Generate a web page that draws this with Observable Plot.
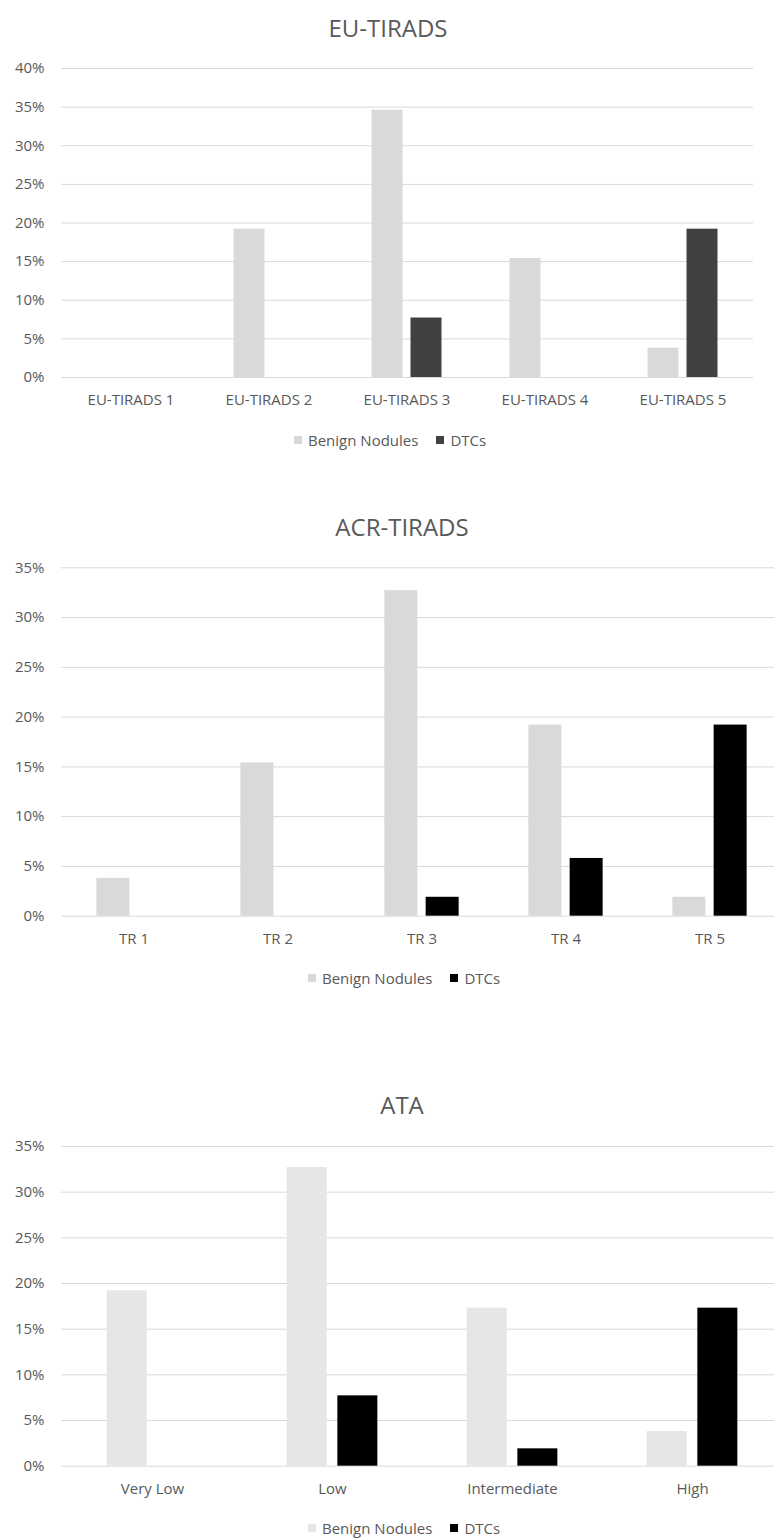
<!DOCTYPE html>
<html>
<head>
<meta charset="utf-8">
<script src="https://cdn.jsdelivr.net/npm/d3@7"></script>
<script src="https://cdn.jsdelivr.net/npm/@observablehq/plot@0.6"></script>
<style>
  body { margin: 0; background: #fff; width: 774px; height: 1538px; overflow: hidden; position: relative;
         font-family: "Open Sans", sans-serif; color: #595959; }
  .title { position: absolute; transform: translateX(-50%); font-size: 24px; line-height: 30px; white-space: nowrap; }
  .chart { position: absolute; left: 0; }
  .legend { position: absolute; font-size: 15px; line-height: 20px; white-space: nowrap; display: flex; align-items: center; }
  .legend .sw { display: inline-block; width: 8px; height: 8px; margin-right: 6px; }
  .legend .item { display: flex; align-items: center; margin-right: 18px; }
</style>
</head>
<body>
<script>
// Share of all 52 nodules per risk category, split by final diagnosis
const seriesNames = ["Benign Nodules", "DTCs"];

const euCategories = ["EU-TIRADS 1", "EU-TIRADS 2", "EU-TIRADS 3", "EU-TIRADS 4", "EU-TIRADS 5"];
const euBenign = [0, 0.192, 0.346, 0.154, 0.038];
const euDTC = [0, 0, 0.077, 0, 0.192];

const acrCategories = ["TR 1", "TR 2", "TR 3", "TR 4", "TR 5"];
const acrBenign = [0.038, 0.154, 0.327, 0.192, 0.019];
const acrDTC = [0, 0, 0.019, 0.058, 0.192];

const ataCategories = ["Very Low", "Low", "Intermediate", "High"];
const ataBenign = [0.192, 0.327, 0.173, 0.038];
const ataDTC = [0, 0.077, 0.019, 0.173];

const yTicks40 = [0, 0.05, 0.10, 0.15, 0.20, 0.25, 0.30, 0.35, 0.40];
const yTicks35 = [0, 0.05, 0.10, 0.15, 0.20, 0.25, 0.30, 0.35];

function panel(cfg) {
  const rows = (vals) => cfg.categories.map((c, i) => ({category: c, value: vals[i]}));
  const step = cfg.step, barW = cfg.barWidth, gap = cfg.gap;
  const pad = 1 - barW / step;
  const off = (barW + gap) / 2;

  const title = document.createElement("div");
  title.className = "title";
  title.textContent = cfg.title;
  title.style.left = cfg.titleX + "px";
  title.style.top = cfg.titleTop + "px";
  document.body.appendChild(title);

  const svg = Plot.plot({
    width: 774,
    height: cfg.height,
    marginLeft: 61,
    marginRight: cfg.marginRight,
    marginTop: cfg.marginTop,
    marginBottom: cfg.marginBottom,
    style: {fontFamily: "Open Sans, sans-serif", fontSize: "15px", color: "#595959", background: "transparent", overflow: "hidden"},
    x: {domain: cfg.categories, paddingInner: pad, paddingOuter: pad / 2, label: null, tickSize: 0, tickPadding: 17},
    y: {domain: [0, cfg.yMax], ticks: cfg.yTicks, tickFormat: d3.format(".0%"), label: null, tickSize: 0, tickPadding: 17},
    marks: [
      Plot.ruleY(cfg.yTicks, {stroke: "#d9d9d9", strokeWidth: 1}),
      Plot.barY(rows(cfg.benign), {x: "category", y: "value", fill: cfg.colors[0], dx: -off}),
      Plot.barY(rows(cfg.dtc), {x: "category", y: "value", fill: cfg.colors[1], dx: off})
    ]
  });
  svg.classList.add("chart");
  svg.style.top = cfg.svgTop + "px";
  document.body.appendChild(svg);

  const legend = document.createElement("div");
  legend.className = "legend";
  legend.style.left = cfg.legendLeft + "px";
  legend.style.top = cfg.legendTop + "px";
  seriesNames.forEach((name, i) => {
    const item = document.createElement("span");
    item.className = "item";
    const sw = document.createElement("span");
    sw.className = "sw";
    sw.style.background = cfg.colors[i];
    item.appendChild(sw);
    item.appendChild(document.createTextNode(name));
    legend.appendChild(item);
  });
  document.body.appendChild(legend);
}

panel({
  title: "EU-TIRADS", titleX: 388, titleTop: 13,
  categories: euCategories, benign: euBenign, dtc: euDTC,
  colors: ["#d9d9d9", "#404040"],
  yMax: 0.40, yTicks: yTicks40,
  svgTop: 50, height: 367, marginTop: 18, marginBottom: 40, marginRight: 21,
  step: 138.2, barWidth: 31.3, gap: 7.7,
  legendLeft: 294, legendTop: 430
});

panel({
  title: "ACR-TIRADS", titleX: 402, titleTop: 512,
  categories: acrCategories, benign: acrBenign, dtc: acrDTC,
  colors: ["#d9d9d9", "#000000"],
  yMax: 0.35, yTicks: yTicks35,
  svgTop: 550, height: 405.7, marginTop: 17.3, marginBottom: 40, marginRight: -8,
  step: 144.3, barWidth: 32.8, gap: 8.5,
  legendLeft: 308, legendTop: 968
});

panel({
  title: "ATA", titleX: 402, titleTop: 1090,
  categories: ataCategories, benign: ataBenign, dtc: ataDTC,
  colors: ["#e7e6e6", "#000000"],
  yMax: 0.35, yTicks: yTicks35,
  svgTop: 1125, height: 380.7, marginTop: 21, marginBottom: 40, marginRight: -8,
  step: 180.3, barWidth: 40, gap: 10.7,
  legendLeft: 308, legendTop: 1518
});
</script>
</body>
</html>
